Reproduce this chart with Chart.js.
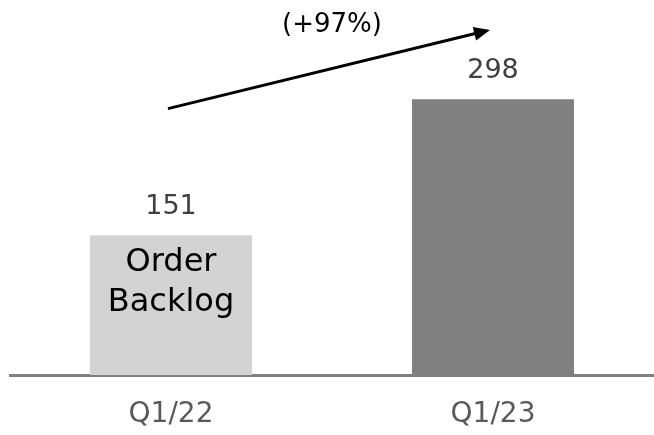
<!DOCTYPE html>
<html>
<head>
<meta charset="utf-8">
<script src="https://cdn.jsdelivr.net/npm/chart.js@4/dist/chart.umd.min.js"></script>
<style>
  html, body { margin: 0; padding: 0; background: #fff; }
  #wrap { width: 654px; height: 435px; position: relative; }
</style>
</head>
<body>
<div id="wrap"><canvas id="c"></canvas></div>
<script>
// order backlog, two quarters
const quarters = ["Q1/22", "Q1/23"];
const backlog = [151, 298];
const barColors = ["#d3d3d3", "#808080"];
const innerLabel = ["Order", "Backlog"];   // written inside the first bar
const growthText = "(+97%)";
const arrowFrom = 288, arrowTo = 373;     // arrow ends, in value units

const FONT = "'DejaVu Sans', Verdana, sans-serif";

// value labels, the in-bar caption and the growth arrow
const overlay = {
  id: "overlay",
  afterDatasetsDraw(chart) {
    const ctx = chart.ctx, x = chart.scales.x, y = chart.scales.y;
    const bars = chart.getDatasetMeta(0).data;
    ctx.save();
    ctx.textAlign = "center";
    ctx.textBaseline = "middle";

    // numbers above the bars
    ctx.font = "27px " + FONT;
    ctx.fillStyle = "#404040";
    bars.forEach((b, i) => ctx.fillText(String(backlog[i]), b.x, b.y - 28));

    // caption in first bar
    ctx.font = "32px " + FONT;
    ctx.fillStyle = "#000";
    innerLabel.forEach((t, i) => ctx.fillText(t, bars[0].x, bars[0].y + 27 + i * 40));

    // growth arrow
    const x0 = x.getPixelForValue(0) - 3, y0 = y.getPixelForValue(arrowFrom);
    const x1 = x.getPixelForValue(1) - 3, y1 = y.getPixelForValue(arrowTo);
    const ang = Math.atan2(y1 - y0, x1 - x0);
    ctx.strokeStyle = "#000";
    ctx.lineWidth = 3;
    ctx.beginPath();
    ctx.moveTo(x0, y0);
    ctx.lineTo(x1 - 12 * Math.cos(ang), y1 - 12 * Math.sin(ang));
    ctx.stroke();
    ctx.beginPath();
    ctx.moveTo(x1, y1);
    ctx.lineTo(x1 - 16 * Math.cos(ang) + 7 * Math.sin(ang), y1 - 16 * Math.sin(ang) - 7 * Math.cos(ang));
    ctx.lineTo(x1 - 16 * Math.cos(ang) - 7 * Math.sin(ang), y1 - 16 * Math.sin(ang) + 7 * Math.cos(ang));
    ctx.closePath();
    ctx.fill();

    // growth text
    ctx.font = "26px " + FONT;
    ctx.fillText(growthText, (x.getPixelForValue(0) + x.getPixelForValue(1)) / 2, 25);
    ctx.restore();
  },
};

new Chart(document.getElementById("c"), {
  type: "bar",
  data: {
    labels: quarters,
    datasets: [{ data: backlog, backgroundColor: barColors, barPercentage: 0.503, categoryPercentage: 1 }],
  },
  options: {
    responsive: true, maintainAspectRatio: false, animation: false,
    layout: { padding: { top: 5, left: 10, right: 0, bottom: 0 } },
    plugins: { legend: { display: false }, tooltip: { enabled: false } },
    scales: {
      x: {
        grid: { display: false, drawTicks: false },
        border: { display: true, color: "#808080", width: 3 },
        ticks: { color: "#595959", font: { family: FONT, size: 28 }, padding: 23 },
        afterFit(scale) { scale.height = 60; },
      },
      y: { display: false, min: 0, max: 400 },
    },
  },
  plugins: [overlay],
});
</script>
</body>
</html>
